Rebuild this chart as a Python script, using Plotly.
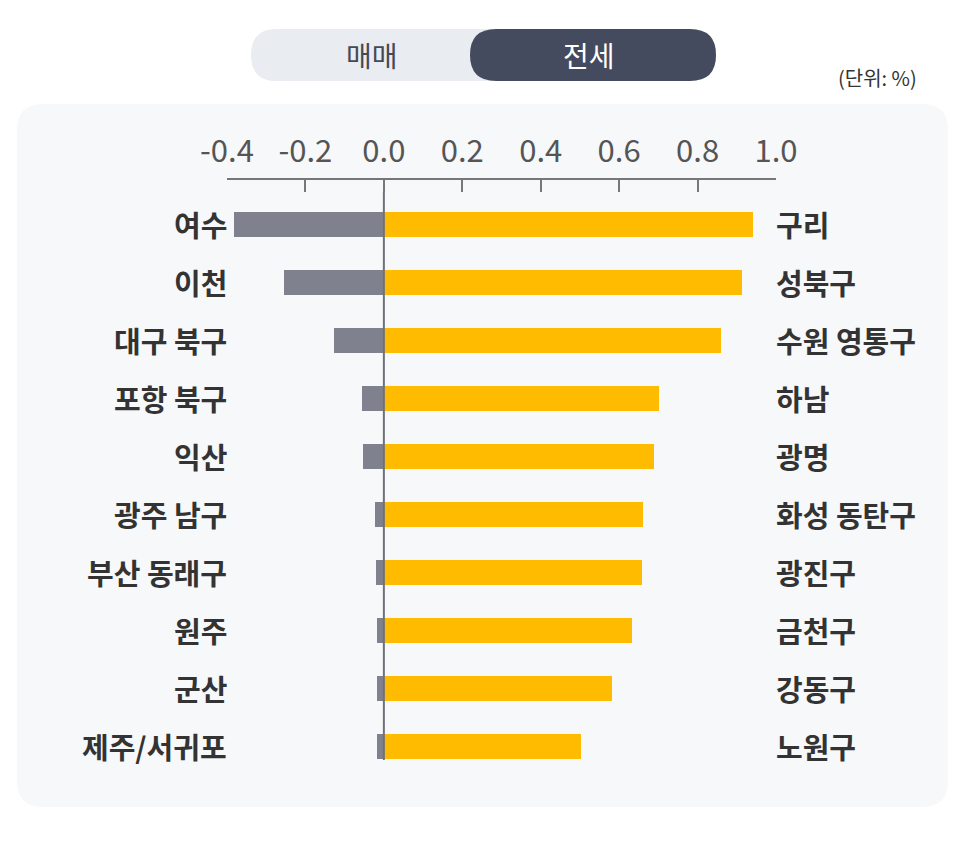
import plotly.graph_objects as go

# ---- data ----
left_labels = ["여수", "이천", "대구 북구", "포항 북구", "익산", "광주 남구", "부산 동래구", "원주", "군산", "제주/서귀포"]
left_values = [-0.383, -0.255, -0.128, -0.055, -0.052, -0.022, -0.021, -0.018, -0.018, -0.018]
right_labels = ["구리", "성북구", "수원 영통구", "하남", "광명", "화성 동탄구", "광진구", "금천구", "강동구", "노원구"]
right_values = [0.941, 0.913, 0.860, 0.702, 0.688, 0.661, 0.658, 0.632, 0.583, 0.503]
tick_vals = [-0.4, -0.2, 0.0, 0.2, 0.4, 0.6, 0.8, 1.0]
tick_text = ["-0.4", "-0.2", "0.0", "0.2", "0.4", "0.6", "0.8", "1.0"]
toggle_labels = ["매매", "전세"]
unit_label = "(단위: %)"

# ---- layout constants ----
W, H = 966, 855
ML, MR, MT, MB = 227, 190, 180, 95
PW, PH = W - ML - MR, H - MT - MB
FONT = "Noto Sans CJK KR"

def xp(px):
    return (px - ML) / PW

def yp(py):
    return (H - MB - py) / PH

def rrect(x0, y0, x1, y1, r):
    # pixel coords (y down) -> paper path with rounded corners
    pts = [
        f"M {xp(x0 + r)},{yp(y0)}",
        f"L {xp(x1 - r)},{yp(y0)}",
        f"Q {xp(x1)},{yp(y0)} {xp(x1)},{yp(y0 + r)}",
        f"L {xp(x1)},{yp(y1 - r)}",
        f"Q {xp(x1)},{yp(y1)} {xp(x1 - r)},{yp(y1)}",
        f"L {xp(x0 + r)},{yp(y1)}",
        f"Q {xp(x0)},{yp(y1)} {xp(x0)},{yp(y1 - r)}",
        f"L {xp(x0)},{yp(y0 + r)}",
        f"Q {xp(x0)},{yp(y0)} {xp(x0 + r)},{yp(y0)}",
        "Z",
    ]
    return " ".join(pts)

idx = list(range(len(left_labels)))

fig = go.Figure()
fig.add_trace(go.Bar(
    y=idx, x=left_values, orientation="h", width=0.43,
    marker=dict(color="#7f828e", line=dict(width=0)), hoverinfo="skip",
))
fig.add_trace(go.Bar(
    y=idx, x=right_values, orientation="h", width=0.43,
    marker=dict(color="#ffbb00", line=dict(width=0)), hoverinfo="skip",
))

shapes = [
    dict(type="path", path=rrect(17, 104, 948, 807, 26), xref="paper", yref="paper",
         fillcolor="#f7f8fa", line=dict(width=0), layer="below"),
    dict(type="path", path=rrect(251, 29, 716, 81, 26), xref="paper", yref="paper",
         fillcolor="#e9ecf0", line=dict(width=0), layer="below"),
    dict(type="path", path=rrect(470, 29, 716, 81, 26), xref="paper", yref="paper",
         fillcolor="#454b5e", line=dict(width=0), layer="below"),
    dict(type="line", xref="x", yref="paper", x0=0, x1=0, y0=0, y1=yp(192),
         line=dict(color="#6e717b", width=2), layer="above"),
]

LABEL_FONT = dict(family=FONT, size=29, color="#333333", weight="bold")
annotations = []
for i, lab in enumerate(left_labels):
    annotations.append(dict(x=0, xref="paper", y=i, yref="y", text=lab, showarrow=False,
                            xanchor="right", yanchor="middle", xshift=2,
                            font=LABEL_FONT))
for i, lab in enumerate(right_labels):
    annotations.append(dict(x=1, xref="paper", y=i, yref="y", text=lab, showarrow=False,
                            xanchor="left", yanchor="middle", xshift=-2,
                            font=LABEL_FONT))
annotations.append(dict(x=xp(372), y=yp(55), xref="paper", yref="paper", text=toggle_labels[0],
                        showarrow=False, xanchor="center", yanchor="middle",
                        font=dict(family=FONT, size=28, color="#444a55")))
annotations.append(dict(x=xp(589), y=yp(55), xref="paper", yref="paper", text=toggle_labels[1],
                        showarrow=False, xanchor="center", yanchor="middle",
                        font=dict(family=FONT, size=28, color="#ffffff")))
annotations.append(dict(x=xp(919), y=yp(77), xref="paper", yref="paper", text=unit_label,
                        showarrow=False, xanchor="right", yanchor="middle",
                        font=dict(family=FONT, size=20, color="#333333")))

fig.update_layout(
    width=W, height=H, autosize=False,
    margin=dict(l=ML, r=MR, t=MT, b=MB, pad=0),
    paper_bgcolor="#ffffff", plot_bgcolor="rgba(0,0,0,0)",
    barmode="overlay", bargap=0, showlegend=False,
    shapes=shapes, annotations=annotations,
    xaxis=dict(range=[-0.4, 1.0], side="top", tickvals=tick_vals, ticktext=tick_text,
               ticks="inside", ticklen=12, tickwidth=1.5, tickcolor="#777777",
               showline=True, linecolor="#777777", linewidth=1.5,
               showgrid=False, zeroline=False, fixedrange=True,
               ticklabelstandoff=4,
               tickfont=dict(family=FONT, size=31, color="#555555")),
    yaxis=dict(range=[9.233, -0.767], visible=False, fixedrange=True),
)

fig.write_html("out.html", config={"displayModeBar": False})
